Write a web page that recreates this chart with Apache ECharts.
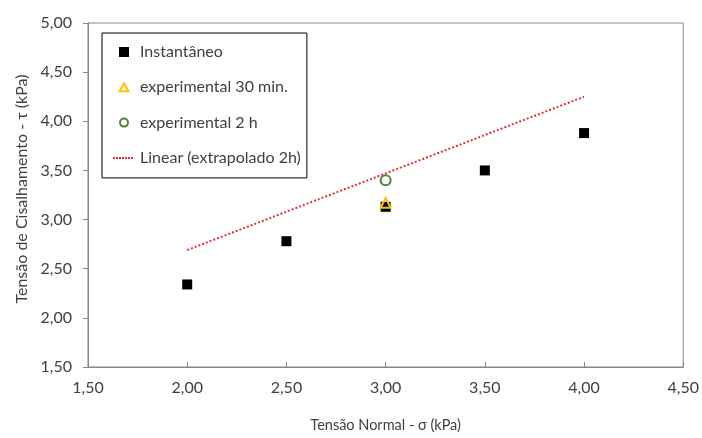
<!DOCTYPE html>
<html>
<head>
<meta charset="utf-8">
<script src="https://cdn.jsdelivr.net/npm/echarts@6/dist/echarts.min.js"></script>
<style>
  html, body { margin: 0; padding: 0; background: #fff; }
  #chart { width: 702px; height: 438px; }
</style>
</head>
<body>
<div id="chart"></div>
<script>
// Normal stress (kPa) and measured shear stress (kPa)
var instantX = [2.0, 2.5, 3.0, 3.5, 4.0];
var instantY = [2.34, 2.78, 3.13, 3.50, 3.88];
var exp30X = [3.0];
var exp30Y = [3.17];
var exp2hX = [3.0];
var exp2hY = [3.40];
// Extrapolated linear fit (2 h), drawn between its end points
var linearX = [2.0, 4.0];
var linearY = [2.69, 4.25];

var xTicks = { min: 1.5, max: 4.5, step: 0.5 };
var yTicks = { min: 1.5, max: 5.0, step: 0.5 };

var seriesNames = ['Instantâneo', 'experimental 30 min.', 'experimental 2 h', 'Linear (extrapolado 2h)'];

function pairs(xs, ys) {
  return xs.map(function (x, i) { return [x, ys[i]]; });
}
function fmt(v) { return v.toFixed(2).replace('.', ','); }

// Legend icons: a 22x10 box (invisible moveTo corners) holding a centred glyph
var BOX = 'M0,0M22,10';
var dots = '';
for (var k = 0; k < 7; k++) { dots += 'M' + (k * 3) + ',4h2v2h-2z'; }
var legendIcons = [
  'path://' + BOX + 'M6,0h10v10h-10z',
  'path://' + BOX + 'M11,1L15.5,9L6.5,9z',
  'path://' + BOX + 'M11,1A4,4,0,1,1,11,9A4,4,0,1,1,11,1z',
  'path://' + BOX + dots
];

var FONT = 'Lato';
var TEXT = '#404040';
var AXIS = '#868686';

var chart = echarts.init(document.getElementById('chart'));
chart.setOption({
  animation: false,
  backgroundColor: '#fff',
  textStyle: { fontFamily: FONT },
  grid: {
    left: 88, right: 15, top: 23, bottom: 66,
    show: true, borderColor: AXIS, borderWidth: 1
  },
  legend: {
    orient: 'vertical',
    left: 102, top: 33,
    data: seriesNames.map(function (n, i) { return { name: n, icon: legendIcons[i] }; }),
    itemWidth: 22, itemHeight: 10,
    itemGap: 19.3,
    padding: [11, 6, 12, 10],
    borderColor: '#000', borderWidth: 1,
    textStyle: { fontFamily: FONT, fontSize: 16, color: TEXT }
  },
  xAxis: {
    type: 'value',
    min: xTicks.min, max: xTicks.max, interval: xTicks.step,
    name: 'Tensão Normal - σ (kPa)',
    nameLocation: 'middle', nameGap: 51,
    nameTextStyle: { fontFamily: FONT, fontSize: 14.5, color: TEXT },
    axisLine: { show: true, lineStyle: { color: AXIS } },
    axisTick: { show: true, inside: true, length: 5, lineStyle: { color: AXIS } },
    axisLabel: { formatter: fmt, fontFamily: FONT, fontSize: 16, color: TEXT, margin: 13 },
    splitLine: { show: false }
  },
  yAxis: {
    type: 'value',
    min: yTicks.min, max: yTicks.max, interval: yTicks.step,
    name: 'Tensão de Cisalhamento - τ (kPa)',
    nameLocation: 'middle', nameGap: 57, nameRotate: 90,
    nameTextStyle: { fontFamily: FONT, fontSize: 16, color: TEXT, padding: [0, 0, 0, 12] },
    axisLine: { show: true, lineStyle: { color: AXIS } },
    axisTick: { show: true, length: 5, lineStyle: { color: AXIS } },
    axisLabel: { formatter: fmt, fontFamily: FONT, fontSize: 16, color: TEXT, margin: 16 },
    splitLine: { show: false }
  },
  series: [
    {
      name: seriesNames[0], type: 'scatter',
      data: pairs(instantX, instantY),
      symbol: 'rect', symbolSize: 10,
      itemStyle: { color: '#000', opacity: 1 }
    },
    {
      name: seriesNames[1], type: 'scatter',
      data: pairs(exp30X, exp30Y),
      symbol: 'triangle', symbolSize: 10,
      itemStyle: { color: 'rgba(255,255,255,0)', borderColor: '#FFC000', borderWidth: 2, opacity: 1 }
    },
    {
      name: seriesNames[2], type: 'scatter',
      data: pairs(exp2hX, exp2hY),
      symbol: 'circle', symbolSize: 10,
      itemStyle: { color: '#fff', borderColor: '#548235', borderWidth: 2, opacity: 1 }
    },
    {
      name: seriesNames[3], type: 'line',
      data: pairs(linearX, linearY),
      symbol: 'none',
      lineStyle: { color: '#E0303A', width: 2, type: [2, 2] },
      itemStyle: { color: '#E0303A' }
    }
  ]
});
</script>
</body>
</html>
